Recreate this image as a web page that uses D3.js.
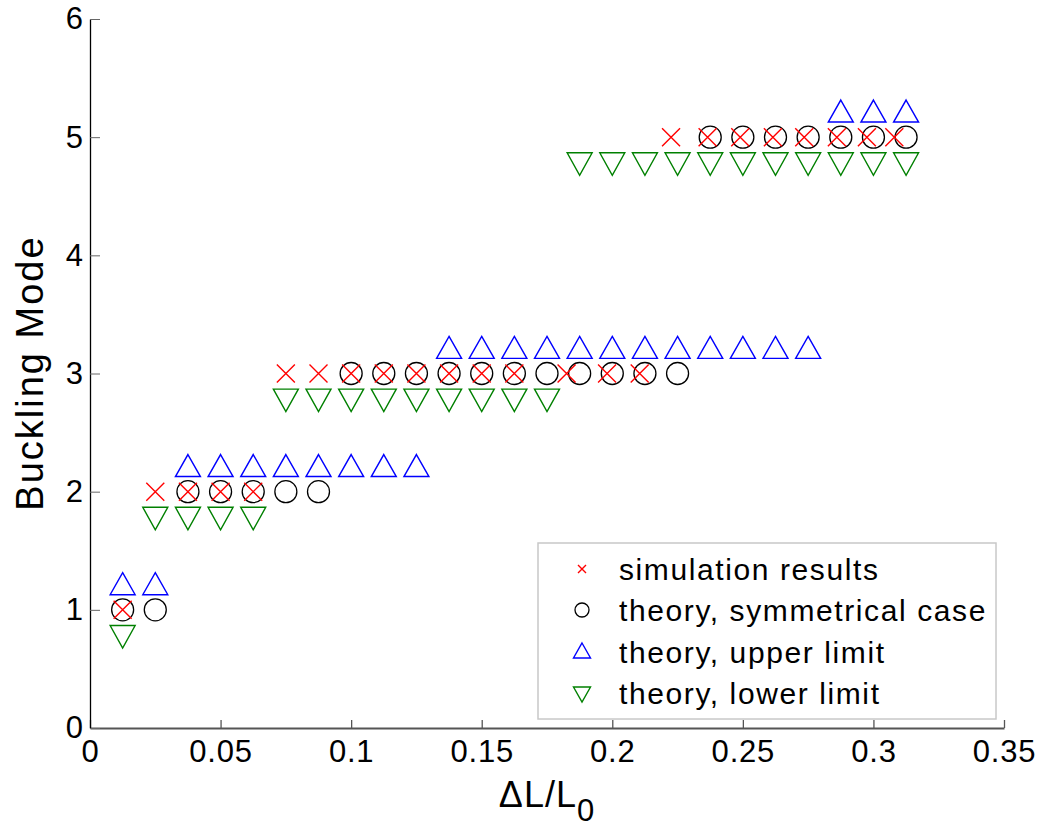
<!DOCTYPE html>
<html>
<head>
<meta charset="utf-8">
<script src="https://cdn.jsdelivr.net/npm/d3@7"></script>
<style>
  html, body { margin: 0; padding: 0; background: #fff; }
  svg { display: block; }
  text { font-family: "Liberation Sans", Arial, Helvetica, sans-serif; }
</style>
</head>
<body>
<script>
// ---------- data ----------
const xTicks = [0, 0.05, 0.1, 0.15, 0.2, 0.25, 0.3, 0.35];
const xTickLabels = ["0", "0.05", "0.1", "0.15", "0.2", "0.25", "0.3", "0.35"];
const yTicks = [0, 1, 2, 3, 4, 5, 6];
const yTickLabels = ["0", "1", "2", "3", "4", "5", "6"];

const simX = [0.0125, 0.025, 0.0375, 0.05, 0.0625, 0.075, 0.0875, 0.1, 0.1125, 0.125,
              0.1375, 0.15, 0.1625, 0.1825, 0.198, 0.2105, 0.2225, 0.2365, 0.249,
              0.2615, 0.2735, 0.286, 0.2975, 0.308];
const simY = [1, 2, 2, 2, 2, 3, 3, 3, 3, 3, 3, 3, 3, 3, 3, 3, 5, 5, 5, 5, 5, 5, 5, 5];

const theoryX = [0.0125, 0.025, 0.0375, 0.05, 0.0625, 0.075, 0.0875, 0.1, 0.1125, 0.125,
                 0.1375, 0.15, 0.1625, 0.175, 0.1875, 0.2, 0.2125, 0.225, 0.2375, 0.25,
                 0.2625, 0.275, 0.2875, 0.3, 0.3125];
const symY   = [1, 1, 2, 2, 2, 2, 2, 3, 3, 3, 3, 3, 3, 3, 3, 3, 3, 3, 5, 5, 5, 5, 5, 5, 5];
const upperY = [1.2, 1.2, 2.2, 2.2, 2.2, 2.2, 2.2, 2.2, 2.2, 2.2, 3.2, 3.2, 3.2, 3.2, 3.2,
                3.2, 3.2, 3.2, 3.2, 3.2, 3.2, 3.2, 5.2, 5.2, 5.2];
const lowerY = [0.8, 1.8, 1.8, 1.8, 1.8, 2.8, 2.8, 2.8, 2.8, 2.8, 2.8, 2.8, 2.8, 2.8, 4.8,
                4.8, 4.8, 4.8, 4.8, 4.8, 4.8, 4.8, 4.8, 4.8, 4.8];

const legendLabels = ["simulation results", "theory, symmetrical case",
                      "theory, upper limit", "theory, lower limit"];

// ---------- layout ----------
const W = 1042, H = 829;
const svg = d3.select("body").append("svg").attr("width", W).attr("height", H);

const x = d3.scaleLinear().domain([0, 0.35]).range([90, 1004]);
const y = d3.scaleLinear().domain([0, 6]).range([728, 19]);

// axes
const gx = svg.append("g").attr("transform", `translate(0,${y(0)})`)
  .call(d3.axisBottom(x).tickValues(xTicks).tickFormat((d, i) => xTickLabels[i])
        .tickSizeInner(-8).tickSizeOuter(0).tickPadding(12));
gx.select(".domain").attr("stroke", "#555").attr("stroke-width", 2);
gx.selectAll(".tick line").attr("stroke", "#555").attr("stroke-width", 1.3);
gx.selectAll(".tick text").attr("font-size", 31).attr("fill", "#000")
  .attr("font-family", "'Liberation Sans', Arial, sans-serif").attr("letter-spacing", 0.8);

const gy = svg.append("g").attr("transform", `translate(${x(0)},0)`)
  .call(d3.axisLeft(y).tickValues(yTicks).tickFormat((d, i) => yTickLabels[i])
        .tickSizeInner(-10).tickSizeOuter(0).tickPadding(7));
gy.select(".domain").attr("stroke", "#000").attr("stroke-width", 1.3);
gy.selectAll(".tick line").attr("stroke", "#666").attr("stroke-width", 1);
gy.selectAll(".tick text").attr("font-size", 31).attr("fill", "#000")
  .attr("font-family", "'Liberation Sans', Arial, sans-serif");

// axis labels
svg.append("text")
  .attr("transform", `translate(43,373) rotate(-90)`)
  .attr("text-anchor", "middle")
  .attr("font-size", 38).attr("letter-spacing", 2)
  .text("Buckling Mode");

const xl = svg.append("text")
  .attr("x", 547).attr("y", 807)
  .attr("text-anchor", "middle")
  .attr("font-size", 36).attr("letter-spacing", 1);
xl.append("tspan").text("\u0394L/L");
xl.append("tspan").attr("dy", 14).attr("font-size", 31).text("0");

// marker shapes
function upTri(g, cx, cy, hw, top, bot, color) {
  g.append("path")
    .attr("d", `M${cx},${cy - top} L${cx + hw},${cy + bot} L${cx - hw},${cy + bot} Z`)
    .attr("fill", "none").attr("stroke", color).attr("stroke-width", 1.4);
}
function downTri(g, cx, cy, hw, top, bot, color) {
  g.append("path")
    .attr("d", `M${cx - hw},${cy - top} L${cx + hw},${cy - top} L${cx},${cy + bot} Z`)
    .attr("fill", "none").attr("stroke", color).attr("stroke-width", 1.4);
}
function cross(g, cx, cy, s, color) {
  g.append("path")
    .attr("d", `M${cx - s},${cy - s} L${cx + s},${cy + s} M${cx + s},${cy - s} L${cx - s},${cy + s}`)
    .attr("fill", "none").attr("stroke", color).attr("stroke-width", 1.4);
}

const plot = svg.append("g");

// lower limit (green down-triangles)
theoryX.forEach((d, i) => downTri(plot, x(d), y(lowerY[i]), 12.5, 8, 14.5, "#008000"));
// upper limit (blue up-triangles)
theoryX.forEach((d, i) => upTri(plot, x(d), y(upperY[i]), 12.5, 13.5, 8.5, "#0000ff"));
// symmetrical case (black circles)
plot.selectAll("circle.sym").data(theoryX).enter().append("circle")
  .attr("class", "sym")
  .attr("cx", d => x(d)).attr("cy", (d, i) => y(symY[i])).attr("r", 11)
  .attr("fill", "none").attr("stroke", "#000").attr("stroke-width", 1.3);
// simulation (red crosses)
simX.forEach((d, i) => cross(plot, x(d), y(simY[i]), 9, "#ff0000"));

// legend
const lg = svg.append("g");
lg.append("rect").attr("x", 538).attr("y", 543).attr("width", 458).attr("height", 176)
  .attr("fill", "#fff").attr("stroke", "#c8c8c8").attr("stroke-width", 1.5);
const rowY = [569, 610, 652, 693];
const mx = 582;
cross(lg, mx, rowY[0], 4, "#ff0000");
lg.append("circle").attr("cx", mx).attr("cy", rowY[1]).attr("r", 7)
  .attr("fill", "none").attr("stroke", "#000").attr("stroke-width", 1.3);
upTri(lg, mx, rowY[2], 8.5, 9, 6, "#0000ff");
downTri(lg, mx, rowY[3], 8.5, 6, 9, "#008000");
legendLabels.forEach((t, i) => {
  lg.append("text").attr("x", 619).attr("y", rowY[i] + 11)
    .attr("font-size", 30).attr("letter-spacing", 1.6).text(t);
});
</script>
</body>
</html>
